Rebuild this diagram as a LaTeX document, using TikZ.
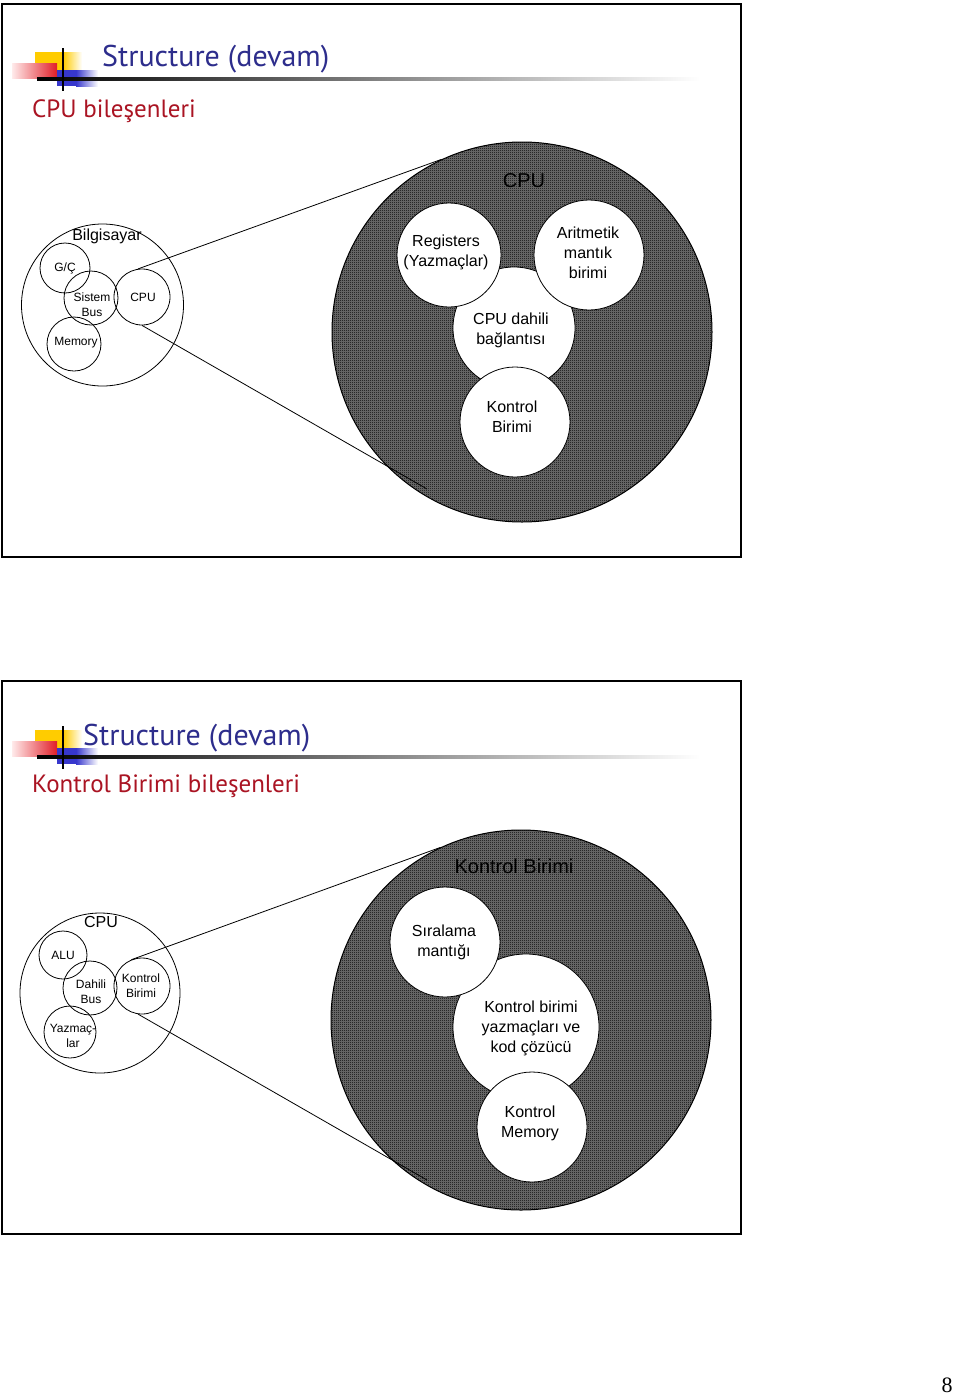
\documentclass[tikz,border=0pt]{standalone}
\usepackage{fontspec}
\setmainfont{Liberation Sans}
\newfontfamily\titlefont{PT Sans}
\newfontfamily\pagefont{Liberation Serif}
\usetikzlibrary{patterns.meta}
\pgfdeclarepattern{
  name=checker,
  type=uncolored,
  bottom left={\pgfpoint{0pt}{0pt}},
  top right={\pgfpoint{2pt}{2pt}},
  tile size={\pgfpoint{2pt}{2pt}},
  code={\pgfpathrectangle{\pgfpoint{0pt}{0pt}}{\pgfpoint{1pt}{1pt}}%
        \pgfpathrectangle{\pgfpoint{1pt}{1pt}}{\pgfpoint{1pt}{1pt}}%
        \pgfusepath{fill}}
}
\definecolor{logoyellow}{RGB}{255,204,0}
\definecolor{logored}{RGB}{225,30,40}
\definecolor{logoblue}{RGB}{55,55,205}
\definecolor{titleblue}{RGB}{45,45,140}
\definecolor{subred}{RGB}{170,20,35}
\tikzset{
  frame/.style={draw=black, line width=2pt},
  sc/.style={circle, draw=black, line width=0.8pt, inner sep=0pt},
  bigc/.style={circle, draw=black, line width=1pt, inner sep=0pt,
               preaction={fill=black!55}, pattern=checker, pattern color=black},
  inc/.style={circle, draw=black, line width=0.8pt, fill=white, inner sep=0pt},
  conn/.style={draw=black, line width=0.8pt},
  lblsmall/.style={inner sep=0pt, align=center, font=\fontsize{12}{15}\selectfont},
  lblmid/.style={inner sep=0pt, align=center, font=\fontsize{16}{20}\selectfont},
  lblbig/.style={inner sep=0pt, align=center, text=black, font=\fontsize{20}{24}\selectfont},
  titletext/.style={anchor=base west, inner sep=0pt, text=titleblue, font=\titlefont\fontsize{30}{36}\selectfont},
  subtext/.style={anchor=base west, inner sep=0pt, text=subred, font=\titlefont\fontsize{25}{30}\selectfont}
}
\newcommand{\drawlogo}{%
  \fill[logoyellow] (35,52) rectangle (63,72);
  \shade[left color=logoyellow, right color=white] (63,52) rectangle (82,72);
  \shade[left color=red!8, right color=logored] (12,63) rectangle (57,78);
  \fill[logoblue] (57,70) rectangle (76,86);
  \shade[left color=logoblue, right color=white] (76,70) rectangle (98,86);
  \shade[left color=black, middle color=black!55, right color=white] (37,77.5) rectangle (700,80.5);
  \draw[line width=2.5pt] (63,48) -- (63,91);
}
\begin{document}
\begin{tikzpicture}[x=1pt,y=-1pt]
\useasboundingbox (0,0) rectangle (960,1395);
\fill[white] (0,0) rectangle (960,1395);

% ---------- slide 1 ----------
\draw[frame] (2,4) rectangle (741,557);
\drawlogo
\node[titletext] (t1) at (102,66) {Structure (devam)};
\node[subtext] (s1) at (32,117) {CPU bileşenleri};

% small diagram
\node[sc, minimum size=162] (bilg) at (102.5,305) {};
\node[sc, minimum size=50] (gc) at (65,268) {};
\node[sc, minimum size=54] (sbus) at (91,298) {};
\node[sc, minimum size=56] (scpu) at (142,297) {};
\node[sc, minimum size=54] (mem) at (74,344) {};
\node[lblmid] (lbilg) at (107,236) {Bilgisayar};
\node[lblsmall] (lgc) at (65,268) {G/Ç};
\node[lblsmall] (lsbus) at (92,304.5) {Sistem\\Bus};
\node[lblsmall] (lscpu) at (143,297) {CPU};
\node[lblsmall] (lmem) at (76,343) {Memory};

% big diagram
\node[bigc, minimum size=380] (bcpu) at (522,332) {};
\node[lblbig] (lbcpu) at (524,181) {CPU};
\node[inc, minimum size=122] (dah) at (514,328) {};
\node[inc, minimum size=104] (reg) at (449,255) {};
\node[inc, minimum size=110] (alu) at (589,255) {};
\node[inc, minimum size=110] (kb) at (515,422) {};
\node[lblmid] (lreg) at (446,252) {Registers\\(Yazmaçlar)};
\node[lblmid] (lalu) at (588,253) {Aritmetik\\mantık\\birimi};
\node[lblmid] (ldah) at (511,330) {CPU dahili\\bağlantısı};
\node[lblmid] (lkb) at (512,417) {Kontrol\\Birimi};

\coordinate (e1) at (427,489);
\draw[conn] (scpu.98) -- (bcpu.115);
\draw[conn] (scpu.270) -- (e1);

% ---------- slide 2 ----------
\draw[frame] (2,681) rectangle (741,1234);
\begin{scope}[shift={(0,678)}]
\drawlogo
\end{scope}
\node[titletext] (t2) at (83,745) {Structure (devam)};
\node[subtext] (s2) at (32,792) {Kontrol Birimi bileşenleri};

% small diagram
\node[sc, minimum size=160] (scpu2) at (100,993) {};
\node[sc, minimum size=48] (salu) at (63,955) {};
\node[sc, minimum size=54] (sdbus) at (90,988) {};
\node[sc, minimum size=56] (skb) at (142,986) {};
\node[sc, minimum size=52] (syaz) at (70,1032) {};
\node[lblmid] (lscpu2) at (101,922) {CPU};
\node[lblsmall] (lsalu) at (63,955) {ALU};
\node[lblsmall] (lsdbus) at (91,991.5) {Dahili\\Bus};
\node[lblsmall] (lskb) at (141,985.5) {Kontrol\\Birimi};
\node[lblsmall] (lsyaz) at (73,1035.5) {Yazmaç-\\lar};

% big diagram
\node[bigc, minimum size=380] (bkb) at (521,1020) {};
\node[lblbig] (lbkb) at (514,866) {Kontrol Birimi};
\node[inc, minimum size=146] (yaz) at (526,1027) {};
\node[inc, minimum size=110] (sir) at (445,942) {};
\node[inc, minimum size=110] (kmem) at (532,1127) {};
\node[lblmid] (lsir) at (444,942) {Sıralama\\mantığı};
\node[lblmid] (lyaz) at (531,1028) {Kontrol birimi\\yazmaçları ve\\kod çözücü};
\node[lblmid] (lkmem) at (530,1123) {Kontrol\\Memory};

\coordinate (e2) at (427,1180);
\draw[conn] (skb.112) -- (bkb.115);
\draw[conn] (skb.262) -- (e2);

% page number
\node[anchor=base, inner sep=0pt, font=\pagefont\fontsize{22}{26}\selectfont] (pg) at (947,1392) {8};
\end{tikzpicture}
\end{document}
